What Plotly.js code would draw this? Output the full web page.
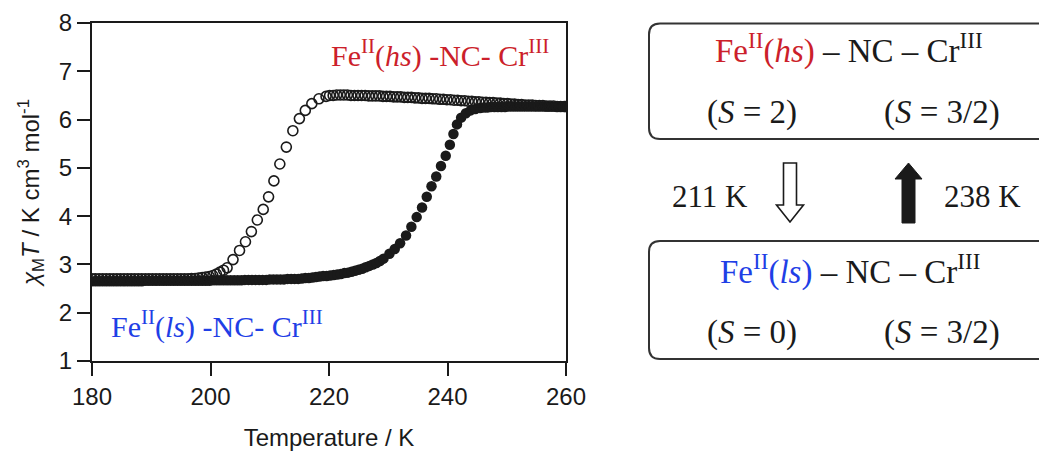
<!DOCTYPE html>
<html>
<head>
<meta charset="utf-8">
<script src="https://cdn.plot.ly/plotly-3.0.1.min.js"></script>
<style>html,body{margin:0;padding:0;background:#fff;}#chart{width:1039px;height:452px;}</style>
</head>
<body>
<div id="chart"></div>
<script>
// ---- data: cooling (open circles) ----
const coolT = [180.0,180.6,181.2,181.8,182.4,183.0,183.6,184.2,184.8,185.4,186.0,186.6,187.2,187.8,188.4,189.0,189.6,190.2,190.8,191.4,192.0,192.6,193.2,193.8,194.4,195.0,195.6,196.2,196.8,197.4,198.0,198.6,199.2,199.8,200.4,201.0,201.6,202.2,
 202.8,203.8,204.9,205.9,206.9,207.9,208.9,209.8,210.7,211.7,212.8,213.9,215.0,216.0,217.1,218.3,219.5,
 220.1,220.7,221.3,221.9,222.5,223.1,223.7,224.3,224.9,225.5,226.1,226.7,227.3,227.9,228.5,229.1,229.7,230.3,230.9,231.5,232.1,232.7,233.3,233.9,234.5,235.1,235.7,236.3,236.9,237.5,238.1,238.7,239.3,239.9,240.5,241.1,241.7,242.3,242.9,243.5,244.1,244.7,245.3,245.9,246.5,247.1,247.7,248.3,248.9,249.5,250.1,250.7,251.3,251.9,252.5,253.1,253.7,254.3,254.9,255.5,256.1,256.7,257.3,257.9,258.5,259.1,259.7,260.0];
const coolChi = [2.70,2.70,2.70,2.70,2.70,2.70,2.70,2.70,2.70,2.70,2.70,2.70,2.70,2.70,2.70,2.70,2.70,2.70,2.70,2.70,2.70,2.70,2.70,2.70,2.70,2.70,2.70,2.70,2.71,2.71,2.72,2.73,2.74,2.75,2.77,2.80,2.84,2.88,
 2.93,3.10,3.29,3.47,3.68,3.92,4.14,4.40,4.73,5.08,5.43,5.77,6.02,6.19,6.33,6.43,6.48,
 6.50,6.50,6.51,6.51,6.51,6.51,6.50,6.50,6.50,6.50,6.50,6.49,6.49,6.49,6.49,6.48,6.48,6.48,6.47,6.47,6.47,6.46,6.46,6.46,6.45,6.45,6.44,6.44,6.44,6.43,6.43,6.42,6.42,6.41,6.41,6.40,6.40,6.39,6.39,6.38,6.38,6.37,6.37,6.36,6.36,6.35,6.35,6.34,6.34,6.33,6.33,6.32,6.32,6.31,6.31,6.30,6.30,6.30,6.29,6.29,6.29,6.28,6.28,6.28,6.27,6.27,6.27,6.27];

// ---- data: heating (filled circles) ----
const heatT = [180.0,180.6,181.2,181.8,182.4,183.0,183.6,184.2,184.8,185.4,186.0,186.6,187.2,187.8,188.4,189.0,189.6,190.2,190.8,191.4,192.0,192.6,193.2,193.8,194.4,195.0,195.6,196.2,196.8,197.4,198.0,198.6,199.2,199.8,200.4,201.0,201.6,202.2,202.8,203.4,204.0,204.6,205.2,205.8,206.4,207.0,207.6,208.2,208.8,209.4,210.0,210.6,211.2,211.8,212.4,213.0,213.6,214.2,214.8,
 215.4,216.0,216.6,217.2,217.8,218.4,219.0,219.6,220.2,220.8,221.4,222.0,222.6,223.2,223.8,224.4,225.0,225.6,226.2,226.8,227.4,228.0,228.6,
 229.2,230.2,231.1,232.0,233.0,233.9,234.8,235.7,236.5,237.3,238.1,238.9,239.7,240.4,241.0,241.6,242.3,243.1,243.9,244.7,245.5,
 246.1,246.7,247.3,247.9,248.5,249.1,249.7,250.3,250.9,251.5,252.1,252.7,253.3,253.9,254.5,255.1,255.7,256.3,256.9,257.5,258.1,258.7,259.3,259.9];
const heatChi = [2.65,2.65,2.65,2.65,2.65,2.65,2.65,2.65,2.65,2.65,2.65,2.65,2.65,2.65,2.65,2.66,2.66,2.66,2.66,2.66,2.66,2.66,2.66,2.66,2.66,2.66,2.66,2.66,2.66,2.66,2.66,2.66,2.66,2.66,2.67,2.67,2.67,2.67,2.67,2.67,2.67,2.67,2.67,2.68,2.68,2.68,2.68,2.68,2.68,2.68,2.69,2.69,2.69,2.69,2.69,2.70,2.70,2.70,2.70,
 2.71,2.72,2.72,2.73,2.74,2.75,2.76,2.76,2.77,2.78,2.79,2.80,2.82,2.83,2.85,2.87,2.89,2.91,2.94,2.97,3.00,3.03,3.07,
 3.12,3.22,3.32,3.44,3.60,3.78,3.98,4.18,4.40,4.62,4.82,5.04,5.25,5.48,5.70,5.90,6.04,6.13,6.19,6.22,6.24,
 6.25,6.25,6.26,6.26,6.26,6.26,6.26,6.27,6.27,6.27,6.27,6.27,6.27,6.27,6.27,6.27,6.27,6.27,6.27,6.27,6.27,6.27,6.27,6.27];

const xTicks = [180, 200, 220, 240, 260];
const yTicks = [1, 2, 3, 4, 5, 6, 7, 8];

// ---- layout helpers (pixel -> paper) ----
const W = 1039, H = 452, ML = 92, MR = 0, MT = 23, MB = 91;
const PW = W - ML - MR, PH = H - MT - MB;
const px = v => (v - ML) / PW;
const py = v => (H - MB - v) / PH;

const RED = '#cc1f2b', BLUE = '#1f3fe6', INK = '#1a1a1a';
const SANS = 'Liberation Sans, Arial, sans-serif';
const SERIF = 'Liberation Serif, Times New Roman, serif';

function roundBox(l, t, r, b, rad) {
  const P = (x, y) => px(x) + ',' + py(y);
  return 'M' + P(l + rad, t) + ' L' + P(r, t) + ' L' + P(r, b) + ' L' + P(l + rad, b) +
    ' Q' + P(l, b) + ' ' + P(l, b - rad) + ' L' + P(l, t + rad) + ' Q' + P(l, t) + ' ' + P(l + rad, t) + ' Z';
}
function poly(pts) {
  return 'M' + pts.map(p => px(p[0]) + ',' + py(p[1])).join(' L') + ' Z';
}

const shapes = [
  {type: 'path', xref: 'paper', yref: 'paper', path: roundBox(649, 23.5, 1060, 139, 11), line: {color: '#333', width: 2}},
  {type: 'path', xref: 'paper', yref: 'paper', path: roundBox(649, 241, 1060, 359, 11), line: {color: '#333', width: 2}},
  {type: 'path', xref: 'paper', yref: 'paper',
   path: poly([[783.5,163],[796.5,163],[796.5,205],[803.5,205],[790,222],[776.5,205],[783.5,205]]),
   line: {color: INK, width: 1.6}, fillcolor: '#ffffff'},
  {type: 'path', xref: 'paper', yref: 'paper',
   path: poly([[902,223],[915,223],[915,179],[922,179],[908.5,163],[895,179],[902,179]]),
   line: {color: INK, width: 1}, fillcolor: INK}
];

function ann(text, x, y, size, family, color) {
  return {text: text, xref: 'paper', yref: 'paper', x: px(x), y: py(y), xanchor: 'center', yanchor: 'middle',
          showarrow: false, font: {family: family, size: size, color: color || INK}};
}

const annotations = [
  ann('Fe<sup>II</sup>(<i>hs</i>) -NC- Cr<sup>III</sup>', 440, 53, 30, SERIF, RED),
  ann('Fe<sup>II</sup>(<i>ls</i>) -NC- Cr<sup>III</sup>', 217, 324, 30, SERIF, BLUE),
  ann('<span style="color:' + RED + '">Fe<sup>II</sup>(<i>hs</i>)</span> – NC – Cr<sup>III</sup>', 849, 49, 33, SERIF),
  ann('(<i>S</i> = 2)', 752, 112, 33, SERIF),
  ann('(<i>S</i> = 3/2)', 942, 112, 33, SERIF),
  ann('<span style="color:' + BLUE + '">Fe<sup>II</sup>(<i>ls</i>)</span> – NC – Cr<sup>III</sup>', 850, 269, 33, SERIF),
  ann('(<i>S</i> = 0)', 752, 332, 33, SERIF),
  ann('(<i>S</i> = 3/2)', 942, 332, 33, SERIF),
  ann('211 K', 710, 196, 31, SERIF),
  ann('238 K', 982, 196, 31, SERIF)
];

const traces = [
  {x: heatT, y: heatChi, type: 'scatter', mode: 'markers', name: 'heating',
   marker: {symbol: 'circle', size: 10.5, color: INK, line: {width: 0}}},
  {x: coolT, y: coolChi, type: 'scatter', mode: 'markers', name: 'cooling',
   marker: {symbol: 'circle-open', size: 10, color: INK, line: {width: 1.6, color: INK}}}
];

const axisCommon = {
  showline: true, linecolor: INK, linewidth: 2, mirror: true,
  ticks: 'outside', ticklen: 13, tickwidth: 2, tickcolor: INK,
  showgrid: false, zeroline: false,
  tickfont: {family: SANS, size: 24, color: INK}
};

const layout = {
  width: W, height: H,
  margin: {l: ML, r: MR, t: MT, b: MB, pad: 0},
  paper_bgcolor: '#ffffff', plot_bgcolor: '#ffffff',
  showlegend: false,
  xaxis: Object.assign({}, axisCommon, {
    domain: [0, px(566)], range: [180, 260], tickvals: xTicks, ticktext: xTicks.map(String),
    title: {text: 'Temperature / K', font: {family: SANS, size: 24, color: INK}, standoff: 20}
  }),
  yaxis: Object.assign({}, axisCommon, {
    range: [1, 8], tickvals: yTicks, ticktext: yTicks.map(String),
    title: {text: '<i>χ</i><sub>M</sub><i>T</i> / K cm<sup>3</sup> mol<sup>-1</sup>', font: {family: SANS, size: 24, color: INK}, standoff: 12}
  }),
  shapes: shapes,
  annotations: annotations
};

Plotly.newPlot('chart', traces, layout, {displayModeBar: false, staticPlot: true});
</script>
</body>
</html>
